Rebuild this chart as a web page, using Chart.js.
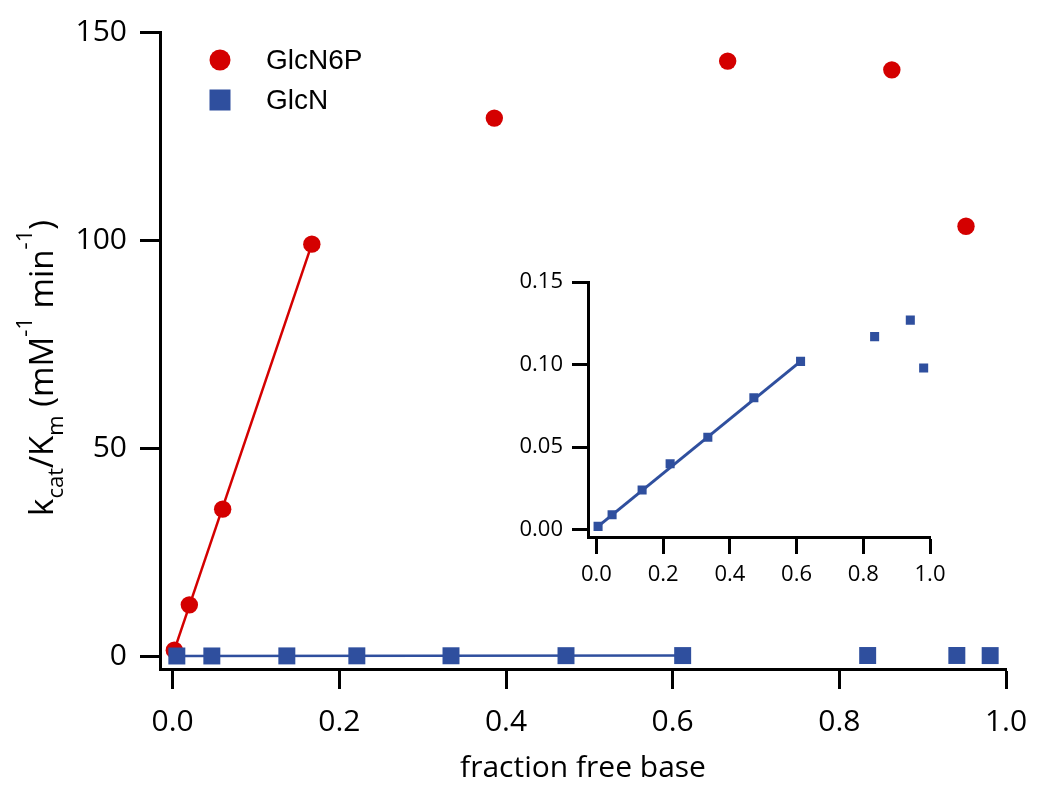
<!DOCTYPE html>
<html>
<head>
<meta charset="utf-8">
<script src="https://cdn.jsdelivr.net/npm/chart.js@4.4.0/dist/chart.umd.min.js"></script>
<style>
  html, body { margin: 0; padding: 0; background: #fff; }
  #wrap { position: relative; width: 1050px; height: 794px; overflow: hidden; }
  #mainChart { position: absolute; left: 0; top: 0; }
  #insetChart { position: absolute; left: 500px; top: 260px; }
</style>
</head>
<body>
<div id="wrap">
  <canvas id="mainChart" width="1050" height="794" style="width:1050px;height:794px"></canvas>
  <canvas id="insetChart" width="460" height="340" style="width:460px;height:340px"></canvas>
</div>
<script>
// data
const glcn6pX = [0.002, 0.020, 0.060, 0.167, 0.386, 0.666, 0.863, 0.952];
const glcn6pY = [1.4, 12.3, 35.3, 99.0, 129.3, 143.0, 140.9, 103.3];
const glcnX = [0.005, 0.047, 0.137, 0.221, 0.334, 0.472, 0.612, 0.834, 0.941, 0.981];
const glcnY = [0.002, 0.009, 0.024, 0.040, 0.056, 0.080, 0.102, 0.117, 0.127, 0.098];

// linear fits (end points)
const glcn6pFitX = [0.002, 0.167];
const glcn6pFitY = [1.4, 99.0];
const glcnFitX = [0.005, 0.612];
const glcnFitY = [0.002, 0.102];

// tick labels
const mainXTicks = [0, 0.2, 0.4, 0.6, 0.8, 1.0];
const mainYTicks = [0, 50, 100, 150];
const insetXTicks = [0, 0.2, 0.4, 0.6, 0.8, 1.0];
const insetYTicks = [0, 0.05, 0.10, 0.15];

const RED = "#d40000";
const BLUE = "#2f4f9e";
const FONT = "'Open Sans', 'DejaVu Sans', sans-serif";

Chart.defaults.font.family = FONT;
Chart.defaults.color = "#000";

function toPoints(xs, ys) {
  return xs.map((x, i) => ({ x: x, y: ys[i] }));
}

function axis(opts) {
  return {
    type: "linear",
    min: opts.min,
    max: opts.max,
    afterBuildTicks: (a) => {
      a.ticks = opts.ticks.map((v) => ({ value: v }));
    },
    afterFit: opts.fit,
    border: { display: true, color: "#000", width: 3 },
    grid: {
      drawOnChartArea: false,
      drawTicks: true,
      tickLength: opts.tickLength,
      tickWidth: 3,
      tickColor: "#000",
    },
    ticks: {
      color: "#000",
      font: { family: FONT, size: opts.fontSize },
      padding: opts.padding,
      maxRotation: 0,
      autoSkip: false,
      callback: opts.format,
    },
    title: opts.title || { display: false },
  };
}

// legend drawn inside the plot area
const legendPlugin = {
  id: "insideLegend",
  afterDraw(chart) {
    const ctx = chart.ctx;
    ctx.save();
    chart.data.datasets.forEach((ds) => {
      if (ds.legendRow === undefined) return;
      const y = 60 + ds.legendRow * 40;
      ctx.fillStyle = ds.backgroundColor;
      if (ds.pointStyle === "rect") {
        ctx.fillRect(220 - 10.5, y - 10.5, 21, 21);
      } else {
        ctx.beginPath();
        ctx.arc(220, y, 10.5, 0, Math.PI * 2);
        ctx.fill();
      }
      ctx.fillStyle = "#000";
      ctx.font = "28px 'Liberation Sans', Arial, sans-serif";
      ctx.textAlign = "left";
      ctx.textBaseline = "middle";
      ctx.fillText(ds.label, 266, y + 1);
    });
    ctx.restore();
  },
};

// y axis title with sub/superscripts
const yTitlePlugin = {
  id: "yTitle",
  afterDraw(chart) {
    const parts = [
      { t: "k" },
      { t: "cat", sub: true },
      { t: "/K" },
      { t: "m", sub: true },
      { t: " (mM" },
      { t: "-1", sup: true },
      { t: " min" },
      { t: "-1", sup: true },
      { t: ")" },
    ];
    const size = 33;
    const small = 22;
    const ctx = chart.ctx;
    ctx.save();
    ctx.fillStyle = "#000";
    ctx.textBaseline = "alphabetic";
    ctx.textAlign = "left";
    let total = 0;
    parts.forEach((p) => {
      ctx.font = (p.sub || p.sup ? small : size) + "px " + FONT;
      p.w = ctx.measureText(p.t).width;
      total += p.w;
    });
    ctx.translate(53, 368);
    ctx.rotate(-Math.PI / 2);
    let x = -total / 2;
    parts.forEach((p) => {
      ctx.font = (p.sub || p.sup ? small : size) + "px " + FONT;
      let dy = 0;
      if (p.sub) dy = 10;
      if (p.sup) dy = -21;
      ctx.fillText(p.t, x, dy);
      x += p.w;
    });
    ctx.restore();
  },
};

new Chart(document.getElementById("mainChart"), {
  type: "scatter",
  data: {
    datasets: [
      {
        label: "GlcN",
        legendRow: 1,
        data: toPoints(glcnX, glcnY),
        pointStyle: "rect",
        pointRadius: 12,
        pointBorderWidth: 0,
        backgroundColor: BLUE,
        borderColor: BLUE,
      },
      {
        label: "GlcN6P",
        legendRow: 0,
        data: toPoints(glcn6pX, glcn6pY),
        pointStyle: "circle",
        pointRadius: 8.7,
        pointBorderWidth: 0,
        backgroundColor: RED,
        borderColor: RED,
      },
      {
        label: "GlcN fit",
        data: toPoints(glcnFitX, glcnFitY),
        showLine: true,
        pointRadius: 0,
        borderWidth: 2.5,
        borderColor: BLUE,
      },
      {
        label: "GlcN6P fit",
        data: toPoints(glcn6pFitX, glcn6pFitY),
        showLine: true,
        pointRadius: 0,
        borderWidth: 2.5,
        borderColor: RED,
      },
    ],
  },
  options: {
    responsive: false,
    animation: false,
    layout: { padding: { left: 0, top: 32, right: 44, bottom: 0 } },
    plugins: { legend: { display: false }, tooltip: { enabled: false } },
    scales: {
      x: axis({
        min: -0.0152,
        max: 1.0,
        ticks: mainXTicks,
        fit: (s) => { s.height = 125; },
        tickLength: 20,
        fontSize: 30,
        padding: 15,
        format: (v) => v.toFixed(1),
        title: {
          display: true,
          text: "fraction free base",
          color: "#000",
          font: { family: FONT, size: 30 },
          padding: { top: 0, bottom: 8 },
        },
      }),
      y: axis({
        min: -3.125,
        max: 150,
        ticks: mainYTicks,
        fit: (s) => { s.width = 160; },
        tickLength: 20,
        fontSize: 30,
        padding: 13,
        format: (v) => v.toFixed(0),
      }),
    },
  },
  plugins: [legendPlugin, yTitlePlugin],
});

new Chart(document.getElementById("insetChart"), {
  type: "scatter",
  data: {
    datasets: [
      {
        label: "GlcN",
        data: toPoints(glcnX, glcnY),
        pointStyle: "rect",
        pointRadius: 6.4,
        pointBorderWidth: 0,
        backgroundColor: BLUE,
        borderColor: BLUE,
      },
      {
        label: "GlcN fit",
        data: toPoints(glcnFitX, glcnFitY),
        showLine: true,
        pointRadius: 0,
        borderWidth: 3,
        borderColor: BLUE,
      },
    ],
  },
  options: {
    responsive: false,
    animation: false,
    layout: { padding: { left: 0, top: 20, right: 30, bottom: 0 } },
    plugins: { legend: { display: false }, tooltip: { enabled: false } },
    scales: {
      x: axis({
        min: -0.0252,
        max: 1.0,
        ticks: insetXTicks,
        fit: (s) => { s.height = 63; },
        tickLength: 17,
        fontSize: 22,
        padding: 8,
        format: (v) => v.toFixed(1),
      }),
      y: axis({
        min: -0.00445,
        max: 0.15,
        ticks: insetYTicks,
        fit: (s) => { s.width = 88; },
        tickLength: 16,
        fontSize: 22,
        padding: 9,
        format: (v) => v.toFixed(2),
      }),
    },
  },
});
</script>
</body>
</html>
